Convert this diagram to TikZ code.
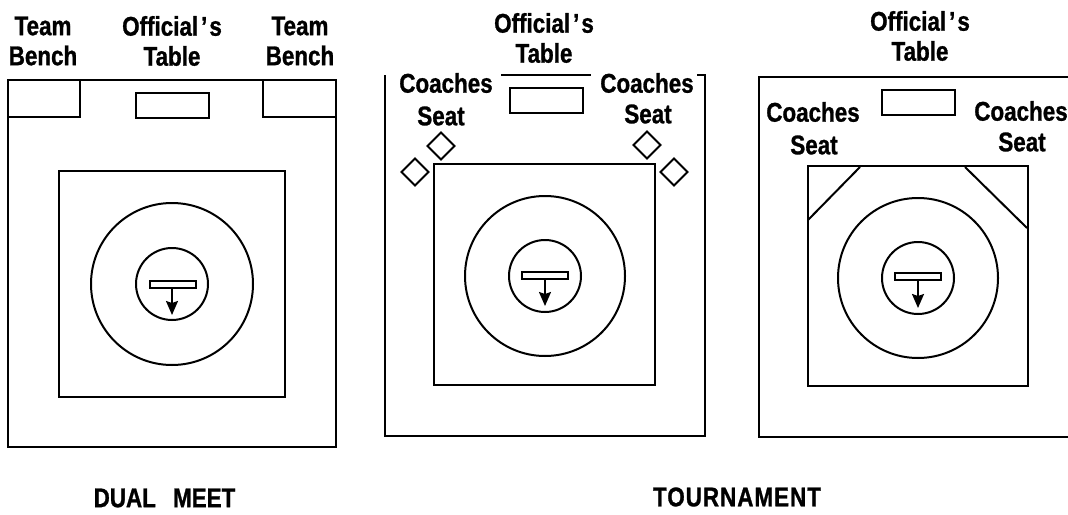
\documentclass[tikz,border=0pt]{standalone}
\usepackage{fontspec}
\setmainfont[FakeStretch=0.83, BoldFeatures={FakeBold=1}]{Liberation Sans}
\usepackage{tikz}
\usetikzlibrary{shapes.geometric, arrows.meta, positioning}

\newcommand{\officialname}{Official\kern3pt'\kern2pt s}

\begin{document}
\begin{tikzpicture}[
    x=1pt, y=-1pt,
    line width=2pt,
    every node/.style={font=\fontsize{27}{30}\selectfont\bfseries, inner sep=0pt, outer sep=0pt},
    mat/.style={rectangle, draw, minimum width=#1, minimum height=#1},
    tablebox/.style={rectangle, draw, minimum width=73pt, minimum height=25pt},
    bar/.style={rectangle, draw, line width=1.5pt, minimum width=46pt, minimum height=7pt},
    ring/.style={circle, draw, minimum size=#1},
    seat/.style={diamond, draw, minimum width=27pt, minimum height=27pt},
    arrow/.style={-{Stealth[length=14pt, width=12pt, inset=2pt]}, line width=1.8pt}
]
\useasboundingbox (0,0) rectangle (1068,514);

% dual meet
\draw (8,80) rectangle (336,447);
\draw (8,117) -| (80,80);
\draw (336,117) -| (263,80);
\node[tablebox] (table1) at (172,105.5) {};
\node[mat=226pt] (mat1) at (172,284) {};
\node[ring=162pt] (outer1) at (172,284) {};
\node[ring=72pt] (inner1) at (172,284) {};
\node[bar] (bar1) at (173,284.5) {};
\coordinate (tip1) at (172,315);
\draw[arrow] (bar1.south -| tip1) -- (tip1);
\node[align=center] (bencha) at (43,41) {Team\\Bench};
\node[align=center] (officiala) at (172,41) {\officialname\\Table};
\node[align=center] (benchb) at (300,41) {Team\\Bench};
\node (dual) at (164.5,498) {DUAL\hspace{11pt} MEET};

% tournament, seats
\draw (385,75) |- (705,436) |- (697,75);
\draw (501,75) -- (591,75);
\node[tablebox] (table2) at (546,100.5) {};
\node[mat=221pt] (mat2) at (544.5,274) {};
\node[ring=160pt] (outer2) at (545,276) {};
\node[ring=72pt] (inner2) at (545,276) {};
\node[bar] (bar2) at (545,275.5) {};
\coordinate (tip2) at (545,306);
\draw[arrow] (bar2.south -| tip2) -- (tip2);
\node[seat] (seata) at (441,146) {};
\node[seat] (seatb) at (415,172) {};
\node[seat] (seatc) at (647,145) {};
\node[seat] (seatd) at (674,172) {};
\node (coachesa) at (446,83) {Coaches};
\node (seatlabela) at (441,116) {Seat};
\node (coachesb) at (647,83) {Coaches};
\node (seatlabelb) at (648,114) {Seat};
\node[align=center] (officialb) at (544,38) {\officialname\\Table};

% tournament, corners
\draw (1068,77) -| (759,437) -- (1068,437);
\node[tablebox] (table3) at (918.5,102) {};
\node[mat=220pt] (mat3) at (918,276) {};
\node[ring=160pt] (outer3) at (918,278) {};
\node[ring=72pt] (inner3) at (918,278) {};
\node[bar] (bar3) at (918,276.5) {};
\coordinate (tip3) at (918,308);
\draw[arrow] (bar3.south -| tip3) -- (tip3);
\draw (860,167) -- (808,220);
\draw (965,167) -- (1027,228);
\node (coachesc) at (813,112) {Coaches};
\node (seatlabelc) at (814,145) {Seat};
\node (coachesd) at (1021,111) {Coaches};
\node (seatlabeld) at (1022,142) {Seat};
\node[align=center] (officialc) at (920,36) {\officialname\\Table};
\node (tourn) at (737,497) {\addfontfeature{LetterSpace=3.7}TOURNAMENT};
\end{tikzpicture}
\end{document}
